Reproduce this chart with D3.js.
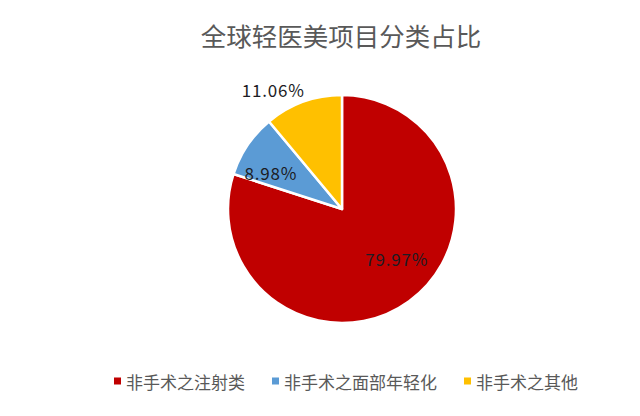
<!DOCTYPE html>
<html>
<head>
<meta charset="utf-8">
<script src="https://cdn.jsdelivr.net/npm/d3@7"></script>
<style>
  body { margin: 0; background: #fff; }
  svg { display: block; font-family: "Noto Sans CJK SC", "Noto Sans", sans-serif; }
</style>
</head>
<body>
<div id="chart"></div>
<script>
// chart data
const categories = ["非手术之注射类", "非手术之面部年轻化", "非手术之其他"];
const shares = [79.97, 8.98, 11.06];
const sliceColors = ["#C00000", "#5B9BD5", "#FFC000"];
const titleText = "全球轻医美项目分类占比";

const width = 640, height = 416;
const cx = 342, cy = 209, radius = 114;

// label placement relative to each slice middle (radius factor, angle shift in degrees)
const labelPlacement = [
    {r: 0.65, shift: -11.6},
    {r: 0.70, shift: -7},
    {r: 1.21, shift: -10}
];

const svg = d3.select("#chart").append("svg")
    .attr("width", width)
    .attr("height", height);

// title
svg.append("text")
    .attr("x", 341)
    .attr("y", 34)
    .attr("text-anchor", "middle")
    .attr("dominant-baseline", "central")
    .attr("font-size", 25.5)
    .attr("fill", "#595959")
    .text(titleText);

const data = categories.map((c, i) => ({name: c, value: shares[i]}));

const color = d3.scaleOrdinal().domain(categories).range(sliceColors);

const pie = d3.pie().sort(null).value(d => d.value);
const arc = d3.arc().innerRadius(0).outerRadius(radius);
const arcs = pie(data);

const g = svg.append("g").attr("transform", `translate(${cx},${cy})`);

g.selectAll("path.slice")
    .data(arcs)
    .join("path")
    .attr("class", "slice")
    .attr("d", arc)
    .attr("fill", d => color(d.data.name))
    .attr("stroke", "#fff")
    .attr("stroke-width", 2.5)
    .attr("stroke-linejoin", "round");

g.selectAll("text.lbl")
    .data(arcs)
    .join("text")
    .attr("class", "lbl")
    .attr("transform", (d, i) => {
        const p = labelPlacement[i];
        const mid = (d.startAngle + d.endAngle) / 2 + p.shift * Math.PI / 180;
        return `translate(${d3.pointRadial(mid, radius * p.r)})`;
    })
    .attr("text-anchor", "middle")
    .attr("dominant-baseline", "central")
    .attr("font-size", 17)
    .attr("letter-spacing", 0.8)
    .attr("fill", "#1c1c24")
    .text(d => d.data.value.toFixed(2) + "%");

// legend, centered under the pie
const legend = svg.append("g").attr("class", "legend");
const items = legend.selectAll("g.item")
    .data(data)
    .join("g")
    .attr("class", "item");

items.append("rect")
    .attr("width", 7)
    .attr("height", 7)
    .attr("y", -3.5)
    .attr("fill", d => color(d.name));

items.append("text")
    .attr("x", 12)
    .attr("dominant-baseline", "central")
    .attr("font-size", 17)
    .attr("fill", "#595959")
    .text(d => d.name);

const gap = 27;
let xPos = 0;
const offsets = [];
items.each(function () {
    offsets.push(xPos);
    xPos += this.getBBox().width + gap;
});
const total = xPos - gap;
const startX = 346 - total / 2;
items.attr("transform", (d, i) => `translate(${startX + offsets[i]},381)`);
</script>
</body>
</html>
